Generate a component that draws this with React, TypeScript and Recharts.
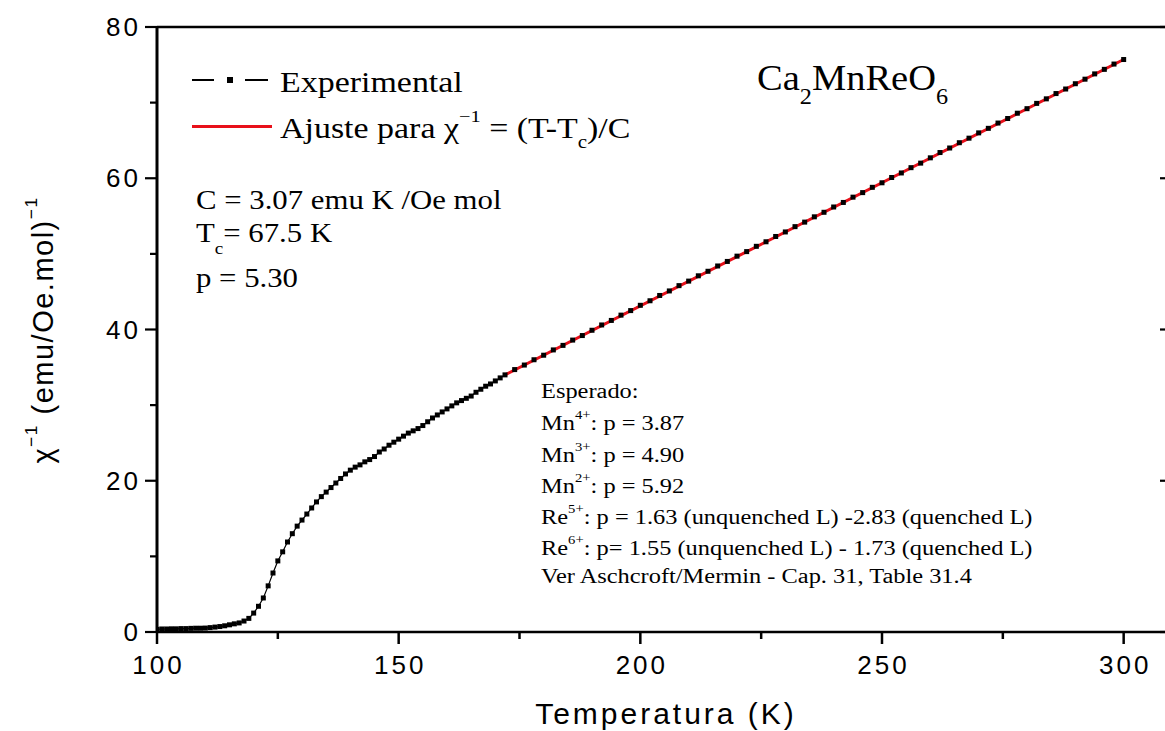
import React from 'react';
import { ComposedChart, Line, XAxis, YAxis } from 'recharts';

// Experimental data (T in K, chi^-1 in (emu/Oe.mol)^-1)
const expTemps = [
  100, 101, 102, 103, 104, 105, 106, 107, 108, 109, 110, 111, 112, 113, 114, 115, 116, 117, 118, 119,
  120, 121, 122, 123, 124, 125, 126, 127, 128, 129, 130, 131, 132, 133, 134, 135, 136, 137, 138, 139,
  140, 141, 142, 143, 144, 145, 146, 147, 148, 149, 150, 151, 152, 153, 154, 155, 156, 157, 158, 159,
  160, 161, 162, 163, 164, 165, 166, 167, 168, 169, 170, 171, 172,
  174, 176, 178, 180, 182, 184, 186, 188, 190, 192, 194, 196, 198, 200, 202, 204, 206, 208, 210, 212,
  214, 216, 218, 220, 222, 224, 226, 228, 230, 232, 234, 236, 238, 240, 242, 244, 246, 248, 250, 252,
  254, 256, 258, 260, 262, 264, 266, 268, 270, 272, 274, 276, 278, 280, 282, 284, 286, 288, 290, 292,
  294, 296, 298, 300,
];
const expChi = [
  0.35, 0.4, 0.4, 0.42, 0.42, 0.45, 0.45, 0.48, 0.5, 0.5, 0.52, 0.58, 0.65, 0.72, 0.82, 0.95, 1.08, 1.2, 1.45, 1.8,
  2.5, 3.4, 4.5, 6.1, 7.8, 9.4, 10.6, 11.9, 13.0, 14.0, 14.8, 15.6, 16.4, 17.2, 17.9, 18.5, 19.1, 19.7, 20.3, 20.9,
  21.4, 21.8, 22.1, 22.5, 22.8, 23.2, 23.8, 24.2, 24.7, 25.1, 25.5, 25.9, 26.3, 26.6, 26.9, 27.3, 27.8, 28.3, 28.7, 29.1,
  29.5, 29.9, 30.3, 30.6, 30.9, 31.2, 31.7, 32.1, 32.5, 32.8, 33.2, 33.6, 34.0,
  34.7, 35.3, 36.0, 36.6, 37.3, 37.9, 38.6, 39.2, 39.9, 40.6, 41.2, 41.9, 42.5, 43.2, 43.8, 44.5, 45.1, 45.8, 46.4, 47.1,
  47.7, 48.4, 49.0, 49.7, 50.3, 51.0, 51.6, 52.3, 52.9, 53.6, 54.2, 54.9, 55.5, 56.2, 56.8, 57.5, 58.1, 58.8, 59.4, 60.1,
  60.7, 61.4, 62.0, 62.7, 63.4, 64.0, 64.7, 65.3, 66.0, 66.6, 67.3, 67.9, 68.6, 69.2, 69.9, 70.5, 71.2, 71.8, 72.5, 73.1,
  73.8, 74.4, 75.1, 75.7,
];

// Curie-Weiss fit line endpoints
const fitTemps = [172, 300];
const fitChi = [34.0, 75.7];

const xTicks = [100, 125, 150, 175, 200, 225, 250, 275, 300];
const xMajor = [100, 150, 200, 250, 300];
const yTicks = [0, 10, 20, 30, 40, 50, 60, 70, 80];
const yMajor = [0, 20, 40, 60, 80];

const expData = expTemps.map((t, i) => ({ T: t, chi: expChi[i] }));
const fitData = fitTemps.map((t, i) => ({ T: t, fit: fitChi[i] }));

const serif = '"Liberation Serif", "Times New Roman", serif';
const sans = '"Liberation Sans", Arial, sans-serif';

const tickFont = { fontFamily: sans, fontSize: 26, letterSpacing: 3, fill: '#000' };

const BottomTick = (props: any) => {
  const { x, y, payload } = props;
  const v = payload.value;
  const major = xMajor.includes(v);
  return (
    <g>
      <line x1={x} x2={x} y1={y} y2={y + (major ? 12 : 7)} stroke="#000" strokeWidth={2.5} />
      {major && (
        <text x={x + 1.5} y={y + 42} textAnchor="middle" style={tickFont as any}>
          {v}
        </text>
      )}
    </g>
  );
};

const TopTick = (props: any) => {
  const { x, y, payload } = props;
  const major = xMajor.includes(payload.value);
  return <line x1={x} x2={x} y1={y} y2={y + (major ? 12 : 7)} stroke="#000" strokeWidth={2.5} />;
};

const LeftTick = (props: any) => {
  const { x, y, payload } = props;
  const v = payload.value;
  const major = yMajor.includes(v);
  return (
    <g>
      <line x1={x} x2={x - (major ? 12 : 7)} y1={y} y2={y} stroke="#000" strokeWidth={2.2} />
      {major && (
        <text x={x - 16} y={y + 9} textAnchor="end" style={tickFont as any}>
          {v}
        </text>
      )}
    </g>
  );
};

const RightTick = (props: any) => {
  const { x, y, payload } = props;
  const major = yMajor.includes(payload.value);
  return <line x1={x} x2={x - (major ? 12 : 7)} y1={y} y2={y} stroke="#000" strokeWidth={2.2} />;
};

const SquareDot = (props: any) => {
  const { cx, cy, index } = props;
  if (cx == null || cy == null) return <g key={`n${index}`} />;
  return <rect key={`d${index}`} x={cx - 2.5} y={cy - 2.5} width={5} height={5} fill="#000" />;
};

type TxtProps = {
  x: number;
  base: number;
  size: number;
  family?: string;
  sx?: number;
  children: React.ReactNode;
};

function Txt({ x, base, size, family = serif, sx = 1, children }: TxtProps) {
  return (
    <div
      style={{
        position: 'absolute',
        left: x,
        top: base - 0.84 * size,
        fontSize: size,
        lineHeight: `${size}px`,
        fontFamily: family,
        whiteSpace: 'nowrap',
        transform: `scaleX(${sx})`,
        transformOrigin: 'left top',
        color: '#000',
      }}
    >
      {children}
    </div>
  );
}

const Sup = ({ children, up = 0.8 }: { children: React.ReactNode; up?: number }) => (
  <span style={{ fontSize: '0.6em', position: 'relative', top: `-${up}em` }}>{children}</span>
);
const Sub = ({ children, down = 0.6, size = 0.62 }: { children: React.ReactNode; down?: number; size?: number }) => (
  <span style={{ fontSize: `${size}em`, position: 'relative', top: `${down}em` }}>{children}</span>
);

export default function App() {
  return (
    <div
      style={{
        position: 'absolute',
        left: 0,
        top: 0,
        width: 1165,
        height: 731,
        overflow: 'hidden',
        background: '#fff',
      }}
    >
      <ComposedChart
        width={1180}
        height={731}
        margin={{ top: 17, right: 2, bottom: 59, left: 97 }}
      >
        <XAxis
          xAxisId={0}
          orientation="bottom"
          type="number"
          dataKey="T"
          domain={[100, 310]}
          ticks={xTicks}
          interval={0}
          height={40}
          tickSize={0}
          tickMargin={0}
          tickLine={false}
          axisLine={{ stroke: '#000', strokeWidth: 2.5 }}
          tick={<BottomTick />}
          allowDataOverflow
        />
        <XAxis
          xAxisId="top"
          orientation="top"
          type="number"
          domain={[100, 310]}
          ticks={xTicks}
          interval={0}
          height={10}
          tickSize={0}
          tickMargin={0}
          tickLine={false}
          axisLine={{ stroke: '#000', strokeWidth: 2.5 }}
          tick={<TopTick />}
          allowDataOverflow
        />
        <YAxis
          yAxisId={0}
          orientation="left"
          type="number"
          domain={[0, 80]}
          ticks={yTicks}
          interval={0}
          width={60}
          tickSize={0}
          tickMargin={0}
          tickLine={false}
          axisLine={{ stroke: '#000', strokeWidth: 3 }}
          tick={<LeftTick />}
          allowDataOverflow
        />
        <YAxis
          yAxisId="right"
          orientation="right"
          type="number"
          domain={[0, 80]}
          ticks={yTicks}
          interval={0}
          width={6}
          tickSize={0}
          tickMargin={0}
          tickLine={false}
          axisLine={{ stroke: '#000', strokeWidth: 3 }}
          tick={<RightTick />}
          allowDataOverflow
        />
        <Line
          data={expData}
          dataKey="chi"
          xAxisId={0}
          yAxisId={0}
          stroke="#000"
          strokeWidth={1.2}
          dot={SquareDot}
          activeDot={false}
          isAnimationActive={false}
        />
        <Line
          data={fitData}
          dataKey="fit"
          xAxisId={0}
          yAxisId={0}
          stroke="#e8101a"
          strokeWidth={3}
          dot={false}
          activeDot={false}
          isAnimationActive={false}
        />
      </ComposedChart>

      {/* Legend */}
      <div style={{ position: 'absolute', left: 192, top: 79, width: 22, height: 2, background: '#000' }} />
      <div style={{ position: 'absolute', left: 227, top: 77, width: 6, height: 6, background: '#000' }} />
      <div style={{ position: 'absolute', left: 245, top: 79, width: 23, height: 2, background: '#000' }} />
      <div style={{ position: 'absolute', left: 192, top: 125, width: 80, height: 3, background: '#e8101a' }} />
      <Txt x={280} base={92} size={29} sx={1.17}>
        Experimental
      </Txt>
      <Txt x={280} base={138} size={29} sx={1.17}>
        Ajuste para χ<Sup up={0.9}>−1</Sup> = (T-T<Sub>c</Sub>)/C
      </Txt>

      {/* Compound */}
      <Txt x={757} base={90} size={35} sx={1.1}>
        Ca<Sub down={0.65} size={0.63}>2</Sub>MnReO<Sub down={0.65} size={0.63}>6</Sub>
      </Txt>

      {/* Fit parameters */}
      <Txt x={196} base={210} size={27} sx={1.14}>
        C = 3.07 emu K /Oe mol
      </Txt>
      <Txt x={196} base={243} size={27} sx={1.14}>
        T<Sub down={0.7}>c</Sub>= 67.5 K
      </Txt>
      <Txt x={196} base={288} size={27} sx={1.14}>
        p = 5.30
      </Txt>

      {/* Expected values */}
      <Txt x={541} base={398} size={20} sx={1.22}>
        Esperado:
      </Txt>
      <Txt x={541} base={430} size={20} sx={1.22}>
        Mn<Sup up={0.9}>4+</Sup>: p = 3.87
      </Txt>
      <Txt x={541} base={462} size={20} sx={1.22}>
        Mn<Sup up={0.9}>3+</Sup>: p = 4.90
      </Txt>
      <Txt x={541} base={493} size={20} sx={1.22}>
        Mn<Sup up={0.9}>2+</Sup>: p = 5.92
      </Txt>
      <Txt x={541} base={524} size={20} sx={1.22}>
        Re<Sup up={0.9}>5+</Sup>: p = 1.63 (unquenched L) -2.83 (quenched L)
      </Txt>
      <Txt x={541} base={555} size={20} sx={1.22}>
        Re<Sup up={0.9}>6+</Sup>: p= 1.55 (unquenched L) - 1.73 (quenched L)
      </Txt>
      <Txt x={541} base={583} size={20} sx={1.22}>
        Ver Aschcroft/Mermin - Cap. 31, Table 31.4
      </Txt>

      {/* Axis titles */}
      <div
        style={{
          position: 'absolute',
          left: 666,
          top: 714,
          transform: 'translate(-50%, -50%)',
          fontFamily: sans,
          fontSize: 30,
          letterSpacing: 3,
          whiteSpace: 'nowrap',
          lineHeight: '30px',
          color: '#000',
        }}
      >
        Temperatura (K)
      </div>
      <div
        style={{
          position: 'absolute',
          left: 45,
          top: 330,
          transform: 'translate(-50%, -50%) rotate(-90deg)',
          fontFamily: sans,
          fontSize: 29,
          letterSpacing: 1.5,
          whiteSpace: 'nowrap',
          lineHeight: '30px',
          color: '#000',
        }}
      >
        χ<Sup up={0.9}>−1</Sup> (emu/Oe.mol)<Sup up={0.9}>−1</Sup>
      </div>
    </div>
  );
}
